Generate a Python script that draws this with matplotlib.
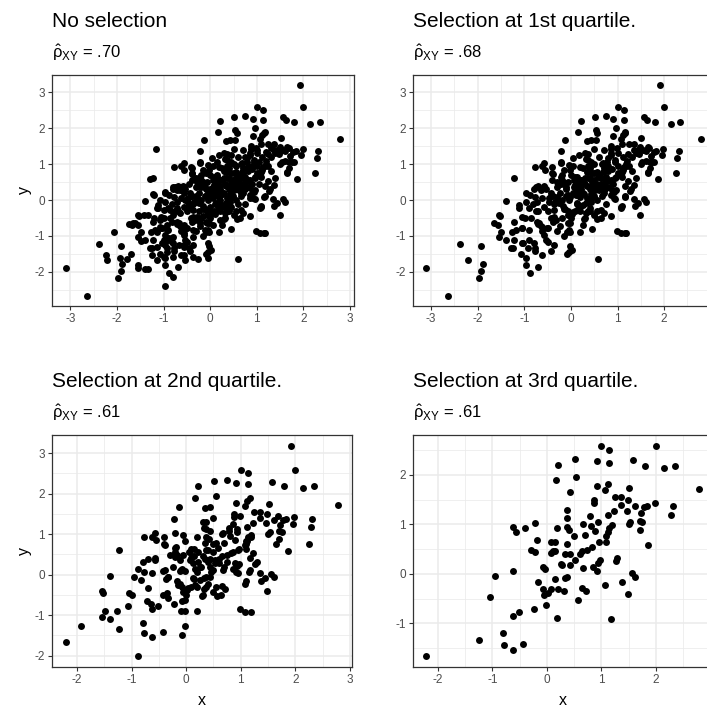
import numpy as np
import matplotlib
matplotlib.use("Agg")
import matplotlib.pyplot as plt
from matplotlib.ticker import MultipleLocator, FixedLocator

plt.rcParams['font.family'] = ['Liberation Sans', 'DejaVu Sans']
plt.rcParams['axes.unicode_minus'] = False
plt.rcParams['mathtext.fontset'] = 'custom'
plt.rcParams['mathtext.rm'] = 'Liberation Sans'
plt.rcParams['mathtext.it'] = 'Liberation Sans:italic'

# points kept in every panel (survive selection at the 3rd quartile)
keep_q3 = [
    [-2.21, -1.67], [-1.24, -1.33], [-0.80, -1.19], [-0.78, -1.43], [-0.63, -1.53], [-0.43, -1.41],
    [-1.05, -0.46], [-0.96, -0.05], [-0.63, 0.05], [-0.63, -0.85], [-0.52, -0.78], [-0.23, -0.72],
    [-0.02, -0.63], [-0.63, 0.94], [-0.56, 0.85], [-0.41, 0.93], [-0.21, 1.03], [-0.19, 0.69],
    [-0.29, 0.49], [-0.21, 0.44], [-0.07, 0.13], [-0.03, 0.09], [-0.16, -0.16], [-0.07, -0.31],
    [-0.06, -0.42], [0.02, -0.38], [0.08, -0.30], [0.14, -0.11], [0.20, -0.30], [0.19, -0.89],
    [0.08, 0.42], [0.14, 0.47], [0.08, 0.64], [0.14, 0.64], [0.19, 0.93], [0.16, 1.89],
    [0.21, 2.20], [0.25, 0.19], [0.51, 2.32], [0.54, 1.95], [0.43, 1.66], [0.91, 2.27],
    [1.00, 2.59], [1.14, 2.51], [1.14, 2.24], [1.57, 2.30], [1.80, 2.18], [2.00, 2.59],
    [2.15, 2.13], [2.35, 2.18], [2.79, 1.71], [0.91, 1.78], [1.12, 1.81], [1.07, 1.69],
    [1.51, 1.74], [0.87, 1.50], [0.87, 1.42], [1.25, 1.55], [1.36, 1.55], [1.49, 1.49],
    [1.36, 1.39], [1.61, 1.36], [1.47, 1.27], [1.23, 1.27], [1.12, 1.19], [1.72, 1.22],
    [1.78, 1.34], [1.83, 1.37], [1.98, 1.43], [2.31, 1.37], [2.28, 1.18], [1.70, 1.07],
    [1.75, 1.05], [1.53, 1.05], [1.50, 1.00], [1.70, 0.89], [1.86, 0.59], [0.79, 1.16],
    [0.66, 1.01], [0.80, 0.96], [0.94, 1.05], [0.89, 0.86], [0.69, 0.78], [0.50, 0.76],
    [0.41, 0.89], [0.36, 0.94], [0.36, 1.12], [0.36, 1.29], [1.19, 0.99], [1.14, 0.93],
    [1.12, 0.84], [1.09, 0.77], [0.96, 0.64], [1.09, 0.64], [0.83, 0.54], [0.74, 0.49],
    [0.65, 0.45], [0.61, 0.39], [0.36, 0.61], [0.11, 0.45], [0.34, 0.39], [0.43, 0.39],
    [0.52, 0.28], [0.43, 0.18], [0.27, 0.18], [0.97, 0.27], [0.93, 0.22], [0.85, 0.13],
    [0.92, 0.06], [0.67, 0.12], [1.29, 0.32], [1.26, 0.26], [1.56, 0.02], [1.61, -0.06],
    [1.37, -0.16], [1.49, -0.41], [1.07, -0.22], [0.65, -0.28], [0.71, -0.35], [0.57, -0.53],
    [0.33, -0.09], [0.37, -0.06], [0.32, -0.35], [1.18, -0.92],
]

# extra points kept at the 2nd quartile
keep_q2 = [
    [-1.92, -1.28], [-1.55, -0.41], [-1.53, -0.45], [-1.49, -0.89], [-1.54, -1.04], [-1.40, -1.10],
    [-1.27, -0.89], [-1.40, -0.03], [-1.23, 0.60], [-0.99, -0.50], [-1.06, -0.77], [-0.88, -2.02],
    [-0.82, -0.12], [-0.88, 0.14], [-0.79, 0.32], [-0.70, 0.38], [-0.77, 0.07], [-0.70, -0.32],
    [-0.71, -0.66], [-0.64, -0.72], [-0.77, 0.93], [-0.57, 1.04], [-0.57, 0.36], [-0.40, 0.75],
    [-0.42, 0.10], [-0.34, -0.06], [-0.37, -0.11], [-0.42, -0.49], [-0.33, -0.57], [-0.22, 1.37],
    [-0.13, 1.67], [-0.20, 0.57], [-0.16, 0.49], [-0.11, 0.37], [-0.11, 0.10], [-0.12, -0.24],
    [0.04, -0.34], [-0.07, -0.64], [-0.09, -0.89], [-0.02, -0.89], [-0.02, -1.28], [-0.08, -1.49],
    [-0.05, 0.97], [-0.02, 0.84], [0.22, 0.57], [0.16, 0.13], [0.22, 0.31],
    [1.92, 3.19], [0.75, 2.33], [0.34, 1.65], [1.17, 1.89], [0.98, 1.44], [0.50, 1.41],
    [0.30, 1.30], [1.68, 1.46], [1.95, 1.26], [2.25, 0.75], [1.65, 0.75], [0.86, 1.26],
    [0.34, 0.78], [1.23, 0.53], [1.15, 0.07], [1.10, -0.16], [0.50, -0.42], [0.99, -0.85],
    [1.07, -0.93], [0.29, -0.53], [0.36, -0.30], [0.40, -0.22],
    [0.07, 0.37], [0.13, 0.30], [0.31, 0.45], [0.40, 0.32], [0.52, 0.37], [0.61, 0.28],
    [0.70, 0.20], [0.89, 0.28], [0.58, 0.65], [0.40, 0.61], [0.95, 0.61], [0.86, 0.57],
    [1.07, 0.74], [1.10, 0.82], [1.18, 0.94], [0.44, 1.07], [0.32, 1.15], [0.68, 1.03],
    [0.78, 1.07], [0.94, 1.12], [1.17, 0.40], [0.95, 0.03], [1.17, 0.12], [1.35, 0.03],
    [1.44, -0.09], [0.49, 0.12], [0.12, -0.09], [0.25, -0.13], [0.43, -0.05], [0.55, -0.30],
    [0.16, -0.26], [0.00, -0.50], [0.31, -0.50], [0.64, -0.50], [-0.09, 0.12], [-0.24, 0.20],
    [-0.39, 0.12], [-0.33, -0.05], [-0.36, -0.46], [-0.15, -0.26], [-0.58, 0.40], [-0.39, 0.73],
    [-0.21, 0.65], [-0.06, 0.49], [0.06, 0.57], [0.49, 0.57], [0.55, 0.78], [0.74, 0.32],
    [0.19, 0.07], [0.46, 0.07],
]

# extra points kept at the 1st quartile
keep_q1 = [
    [-3.10, -1.90], [-2.64, -2.66], [-2.38, -1.23], [-1.89, -1.79], [-1.92, -1.98], [-1.97, -2.16],
    [-1.65, -0.63], [-1.56, -0.71], [-1.29, -1.35], [-1.11, -0.14], [-1.11, -0.23], [-1.22, -0.60],
    [-1.08, -1.51], [-1.02, -1.21], [-0.97, -1.81], [-0.96, -1.61], [-0.92, -1.35], [-0.77, -1.35],
    [-0.70, -1.86], [-0.97, 0.19], [-0.90, -0.23], [-0.86, -0.51], [-0.72, -0.60], [-0.72, -0.05],
    [-0.54, 0.32], [-0.57, -0.97], [-0.50, -1.16], [-0.49, -0.79], [-0.49, -0.32], [-0.47, 0.05],
    [0.02, -1.39], [0.59, -1.65], [1.63, 2.22], [0.97, 2.01],
    [-1.18, -0.84], [-1.04, -0.79], [-0.90, -0.84], [-0.75, -0.32], [-0.68, -0.65], [-0.61, -0.74],
    [-0.39, -0.60], [-0.75, 0.37], [-0.65, 0.28], [-0.43, 0.19], [-0.29, 0.09], [-0.25, -0.09],
    [-0.57, -0.19], [-0.47, -0.05], [-0.36, -0.28], [-0.22, 1.07], [-1.22, -1.11], [-1.04, -1.21],
    [-0.90, -1.11], [-0.54, -1.11], [-0.36, -1.25], [-0.04, -0.84], [-0.04, -1.44],
    [0.05, 0.20], [0.20, 0.40], [0.30, 0.60], [0.45, 0.50], [0.55, 0.45], [0.60, 0.70],
    [0.75, 0.65], [0.80, 0.80], [0.70, 0.90], [0.50, 1.00], [0.60, 1.20], [0.85, 1.30],
    [1.00, 1.30], [1.00, 0.95], [1.20, 1.10], [1.30, 1.20], [1.40, 1.30], [1.55, 1.40],
    [1.30, 0.80], [1.40, 0.60], [0.35, 0.05], [0.55, 0.00], [0.75, -0.10], [0.80, 0.35],
    [0.10, 0.15], [-0.10, 0.30], [-0.20, 0.00], [-0.30, 0.35], [0.00, 0.70], [0.25, 0.90],
    [0.04, 1.16], [0.18, 1.25], [0.54, 1.67], [0.57, 1.86], [1.15, 1.86], [1.43, 1.39],
    [1.65, 1.49], [1.79, 1.07], [1.65, 0.79], [1.36, 0.42], [1.08, -0.19], [1.15, -0.93],
    [0.25, -0.70], [0.45, -0.80], [0.85, -0.45], [-0.15, -1.00], [-0.30, -0.85],
    [-0.40, 0.55], [-0.15, 0.85], [0.05, 0.95], [0.25, 0.55], [0.45, 0.75], [0.65, 0.60],
    [0.90, 0.45], [1.00, 0.75], [1.25, 0.95], [0.70, 0.35], [0.15, 0.25], [-0.05, 0.00],
    [0.40, -0.30], [0.20, -0.20], [-0.20, -0.50], [0.70, 1.40], [1.10, 1.55], [1.60, 1.10],
]

# extra points only in the unselected sample
keep_q0 = [
    [-1.17, 1.42], [-1.22, 0.16], [-2.07, -0.88], [-2.24, -1.53], [-1.93, -1.62], [-1.79, -1.65],
    [-1.69, -1.49], [-1.56, -1.81], [-1.54, -1.88], [-1.39, -1.92], [-1.34, -1.92], [-1.14, -1.68],
    [-0.79, -2.14], [-0.96, -2.39], [-0.27, -1.65], [-1.75, -0.68], [-1.68, -0.70], [-1.62, -0.65],
    [-1.30, 0.58], [-0.99, -1.59], [-0.93, -1.46], [-0.54, -1.67], [-0.39, 0.88],
    [-1.43, -0.42], [-1.34, -0.42], [-1.48, -1.14], [-0.68, -1.25], [-0.57, -1.30], [-0.46, -1.35],
    [-1.14, -0.88], [-0.93, -0.70], [-0.82, -0.60], [-0.96, -0.97], [-0.89, -1.07], [-0.82, -1.16],
    [-1.21, 0.14], [-1.07, 0.00], [-1.14, -0.23], [-1.00, -0.28], [-1.21, -0.51], [-1.07, -0.56],
    [-0.79, -0.42], [-0.64, -0.37], [-1.07, -0.74], [-0.93, -0.84], [-0.57, -0.70], [-0.29, -0.46],
    [-0.21, -0.65], [-0.36, -0.84], [-0.57, -0.93], [-0.79, -1.02], [-1.00, -1.11], [-1.14, -1.30],
    [-0.96, -1.25], [-0.57, -1.25], [-0.36, -1.02], [-0.11, -0.84], [-0.04, -1.21], [-1.25, -1.53],
    [-0.79, -1.58], [-0.57, -1.53], [-0.36, -1.58], [-0.04, -1.62],
    [-0.96, 0.23], [-0.79, 0.37], [-0.71, 0.28], [-0.57, 0.19], [-0.86, -0.28], [-0.71, -0.23],
    [-0.45, 0.45], [-0.30, 0.60], [0.00, 0.30], [0.10, -0.10], [0.30, 0.20], [0.50, 0.55],
    [0.70, 0.70], [0.90, 0.95], [1.00, 1.40], [1.30, 1.45], [0.20, -0.55], [0.45, -0.20],
    [0.05, -0.70], [-0.15, -0.45],
    [-0.30, 0.10], [-0.20, 0.35], [-0.05, 0.20], [0.05, 0.05], [0.20, 0.00], [0.30, -0.20],
    [0.40, 0.40], [0.60, 0.50], [0.65, 0.20], [0.80, 0.55], [0.15, 0.70], [0.30, 0.80],
    [0.55, 0.95], [0.75, 1.20], [1.05, 1.05], [1.20, 1.35], [0.00, -0.20], [-0.10, -0.60],
    [0.10, -0.40], [-0.45, -0.20], [-0.55, 0.00], [-0.25, -0.30], [0.60, -0.10], [0.85, 0.05],
    [1.05, 0.45], [0.45, 1.25], [-0.10, 0.75], [0.15, 1.05],
]

titles = ["No selection", "Selection at 1st quartile.",
          "Selection at 2nd quartile.", "Selection at 3rd quartile."]
rho_labels = [".70", ".68", ".61", ".61"]

groups = [np.array(keep_q3), np.array(keep_q2), np.array(keep_q1), np.array(keep_q0)]
# panel k shows the groups that survive its selection level
panel_groups = [4, 3, 2, 1]

W, H = 707, 710
fig = plt.figure(figsize=(W / 100, H / 100), dpi=100)

# (left, top, right, bottom) in pixels
boxes = [(52, 75, 354, 306), (412.7, 75, 714.7, 306),
         (52, 435, 352, 667), (412.7, 435, 712.7, 667)]

for i, (l, t, r, b) in enumerate(boxes):
    ax = fig.add_axes([l / W, 1 - b / H, (r - l) / W, (b - t) / H])
    pts = np.vstack(groups[:panel_groups[i]])
    ax.set_axisbelow(True)
    ax.scatter(pts[:, 0], pts[:, 1], s=25, color='black', linewidths=0, zorder=3)
    ax.margins(0.05)
    ax.xaxis.set_major_locator(MultipleLocator(1))
    ax.yaxis.set_major_locator(MultipleLocator(1))
    ax.xaxis.set_minor_locator(MultipleLocator(0.5))
    ax.yaxis.set_minor_locator(MultipleLocator(0.5))
    if i == 3:
        # the 3 tick falls outside the cropped picture
        ax.xaxis.set_major_locator(FixedLocator([-2, -1, 0, 1, 2]))
    ax.grid(which='major', color='#EBEBEB', linewidth=1.1)
    ax.grid(which='minor', color='#EBEBEB', linewidth=0.55)
    ax.tick_params(which='major', length=3, width=0.8, color='#333333',
                   labelsize=8.5, labelcolor='#4D4D4D', pad=2)
    ax.tick_params(which='minor', length=0)
    for sp in ax.spines.values():
        sp.set_color('#333333')
        sp.set_linewidth(0.9)
    if i % 2 == 0:
        ax.set_ylabel('y', fontsize=11.5, labelpad=2)
    if i >= 2:
        ax.set_xlabel('x', fontsize=11.5, labelpad=5)

    fig.text(l / W, 1 - (t - 48) / H, titles[i], fontsize=15, va='baseline', ha='left')
    fig.text(l / W, 1 - (t - 17) / H,
             r'$\hat{\mathrm{\rho}}_{\mathrm{XY}}$ = ' + rho_labels[i],
             fontsize=12, va='baseline', ha='left')

fig.savefig('out.png', dpi=100, facecolor='white')
